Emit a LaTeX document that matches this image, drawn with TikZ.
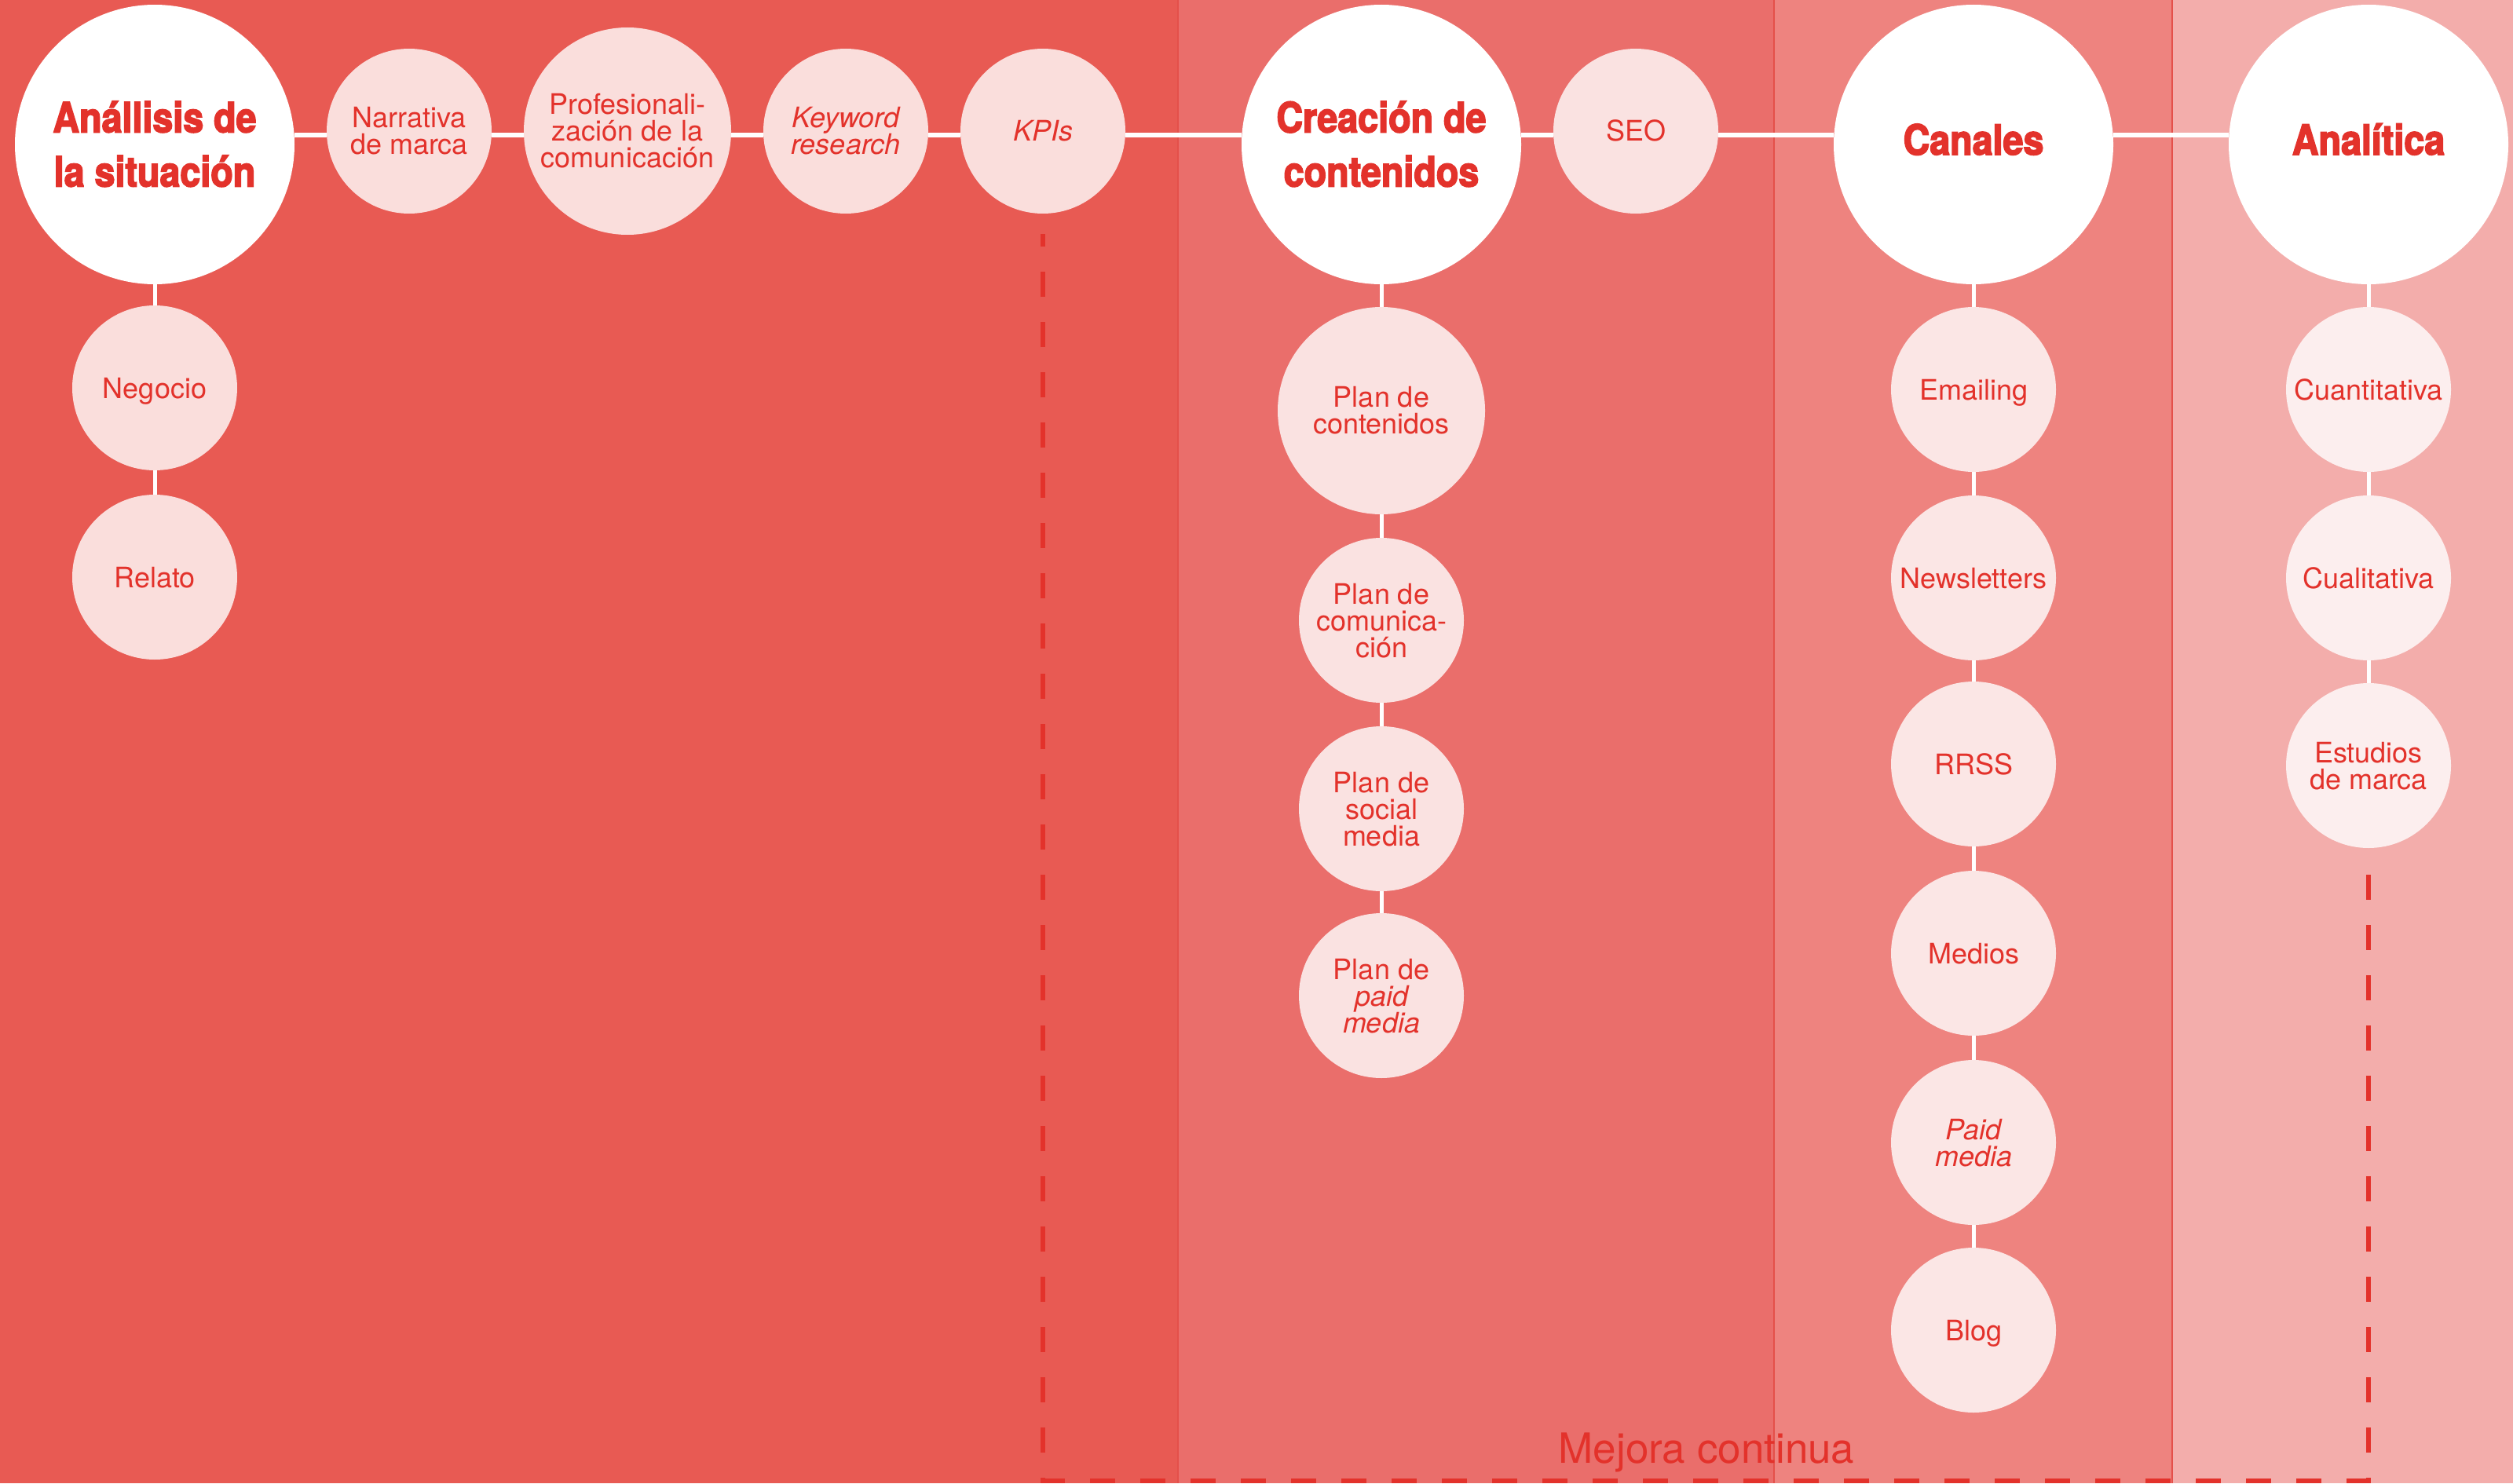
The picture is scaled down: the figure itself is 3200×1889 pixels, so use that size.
\documentclass[tikz,border=0pt]{standalone}
\usepackage{fontspec}
\setmainfont{TeX Gyre Heros}
\newfontfamily\titlefont{TeX Gyre Heros}[FakeStretch=0.88, FakeBold=3]
\usetikzlibrary{calc}
\definecolor{bandA}{RGB}{232,90,83}
\definecolor{bandB}{RGB}{234,110,107}
\definecolor{bandC}{RGB}{238,131,127}
\definecolor{bandD}{RGB}{243,173,171}
\definecolor{txtred}{RGB}{227,50,43}
\definecolor{edgeline}{RGB}{228,80,74}
\newcommand\mlines[1]{\vtop{\lineskiplimit=-\maxdimen\halign{\hfil##\hfil\cr#1\crcr}}}
\tikzset{
  big/.style={circle, fill=white, minimum size=356pt, inner sep=0pt},
  sub/.style={circle, fill=white, fill opacity=0.8, minimum size=210pt, inner sep=0pt},
  subL/.style={sub, minimum size=264pt},
  hconn/.style={draw=white, line width=6pt},
  vconn/.style={draw=white, line width=5pt},
  ttl/.style={anchor=base, text=txtred, inner sep=0pt, font=\titlefont\bfseries\fontsize{53}{69}\selectfont},
  stx/.style={anchor=base, text=txtred, inner sep=0pt, font=\fontsize{36}{34}\selectfont},
  mejora/.style={draw=txtred, line width=6pt, dash pattern=on 32pt off 32pt, dash phase=16pt, shorten <=26pt, shorten >=23pt},
  bandedge/.style={draw=edgeline, line width=1.5pt}
}
\begin{document}
\begin{tikzpicture}[x=1pt,y=-1pt]
\useasboundingbox (0,0) rectangle (3200,1889);
% bands
\fill[bandA] (0,0) rectangle (1500,1889);
\fill[bandB] (1500,0) rectangle (2259,1889);
\fill[bandC] (2259,0) rectangle (2766,1889);
\fill[bandD] (2766,0) rectangle (3200,1889);
\draw[bandedge] (1500,0) -- (1500,1889);
\draw[bandedge] (2259,0) -- (2259,1889);
\draw[bandedge] (2766,0) -- (2766,1889);
\coordinate (hl) at (0,172);
\coordinate (bot) at (0,1886);
% main circles
\node[big] (ana) at (197,184) {};
\node[big] (cre) at (1759,184) {};
\node[big] (can) at (2513,184) {};
\node[big] (anl) at (3016,184) {};
% top row
\node[sub] (narr) at (521,167) {};
\node[subL] (prof) at (799,167) {};
\node[sub] (kw) at (1077,167) {};
\node[sub] (kpi) at (1328,167) {};
\node[sub] (seo) at (2083,167) {};
% columns
\node[sub] (neg) at (197,494) {};
\node[sub] (rel) at (197,735) {};
\node[subL] (pcont) at (1759,523) {};
\node[sub] (pcom) at (1759,790) {};
\node[sub] (psoc) at (1759,1030) {};
\node[sub] (ppaid) at (1759,1268) {};
\node[sub] (ema) at (2513,496) {};
\node[sub] (news) at (2513,736) {};
\node[sub] (rrss) at (2513,973) {};
\node[sub] (med) at (2513,1214) {};
\node[sub] (pmed) at (2513,1455) {};
\node[sub] (blog) at (2513,1694) {};
\node[sub] (cuan) at (3016,496) {};
\node[sub] (cual) at (3016,736) {};
\node[sub] (est) at (3016,975) {};
% horizontal connectors
\draw[hconn] (ana.east |- hl) -- (narr.west |- hl);
\draw[hconn] (narr.east |- hl) -- (prof.west |- hl);
\draw[hconn] (prof.east |- hl) -- (kw.west |- hl);
\draw[hconn] (kw.east |- hl) -- (kpi.west |- hl);
\draw[hconn] (kpi.east |- hl) -- (cre.west |- hl);
\draw[hconn] (cre.east |- hl) -- (seo.west |- hl);
\draw[hconn] (seo.east |- hl) -- (can.west |- hl);
\draw[hconn] (can.east |- hl) -- (anl.west |- hl);
% vertical connectors
\draw[vconn] (ana) -- (neg);
\draw[vconn] (neg) -- (rel);
\draw[vconn] (cre) -- (pcont);
\draw[vconn] (pcont) -- (pcom);
\draw[vconn] (pcom) -- (psoc);
\draw[vconn] (psoc) -- (ppaid);
\draw[vconn] (can) -- (ema);
\draw[vconn] (ema) -- (news);
\draw[vconn] (news) -- (rrss);
\draw[vconn] (rrss) -- (med);
\draw[vconn] (med) -- (pmed);
\draw[vconn] (pmed) -- (blog);
\draw[vconn] (anl) -- (cuan);
\draw[vconn] (cuan) -- (cual);
\draw[vconn] (cual) -- (est);
% dashed loop
\draw[mejora] (kpi) -- (kpi |- bot) -- (est |- bot) -- (est);
% titles
\node[ttl] (anaT) at ($(ana)+(0,-15.5)$) {\mlines{Anállisis de\cr la situación}};
\node[ttl] (creT) at ($(cre)+(0,-15.5)$) {\mlines{Creación de\cr contenidos}};
\node[ttl] (canT) at ($(can)+(0,13)$) {Canales};
\node[ttl] (anlT) at ($(anl)+(0,13)$) {Analítica};
% sub texts
\node[stx] (narrT) at ($(narr)+(0,-4)$) {\mlines{Narrativa\cr de marca}};
\node[stx] (profT) at ($(prof)+(0,-21)$) {\mlines{Profesionali-\cr zación de la\cr comunicación}};
\node[stx] (kwT) at ($(kw)+(0,-4)$) {\itshape\mlines{Keyword\cr research}};
\node[stx] (kpiT) at ($(kpi)+(0,13)$) {\itshape KPIs};
\node[stx] (seoT) at ($(seo)+(0,13)$) {SEO};
\node[stx] (negT) at ($(neg)+(0,13)$) {Negocio};
\node[stx] (relT) at ($(rel)+(0,13)$) {Relato};
\node[stx] (pcontT) at ($(pcont)+(0,-5)$) {\mlines{Plan de\cr contenidos}};
\node[stx] (pcomT) at ($(pcom)+(0,-21)$) {\mlines{Plan de\cr comunica-\cr ción}};
\node[stx] (psocT) at ($(psoc)+(0,-21)$) {\mlines{Plan de\cr social\cr media}};
\node[stx] (ppaidT) at ($(ppaid)+(0,-21)$) {\mlines{Plan de\cr \itshape paid\cr \itshape media}};
\node[stx] (emaT) at ($(ema)+(0,13)$) {Emailing};
\node[stx] (newsT) at ($(news)+(0,13)$) {Newsletters};
\node[stx] (rrssT) at ($(rrss)+(0,13)$) {RRSS};
\node[stx] (medT) at ($(med)+(0,13)$) {Medios};
\node[stx] (pmedT) at ($(pmed)+(0,-4)$) {\itshape\mlines{Paid\cr media}};
\node[stx] (blogT) at ($(blog)+(0,13)$) {Blog};
\node[stx] (cuanT) at ($(cuan)+(0,13)$) {Cuantitativa};
\node[stx] (cualT) at ($(cual)+(0,13)$) {Cualitativa};
\node[stx] (estT) at ($(est)+(0,-4)$) {\mlines{Estudios\cr de marca}};
\node[anchor=base, text=txtred, inner sep=0pt, font=\fontsize{53}{60}\selectfont] (mc) at (2173,1863) {Mejora continua};
\end{tikzpicture}
\end{document}
